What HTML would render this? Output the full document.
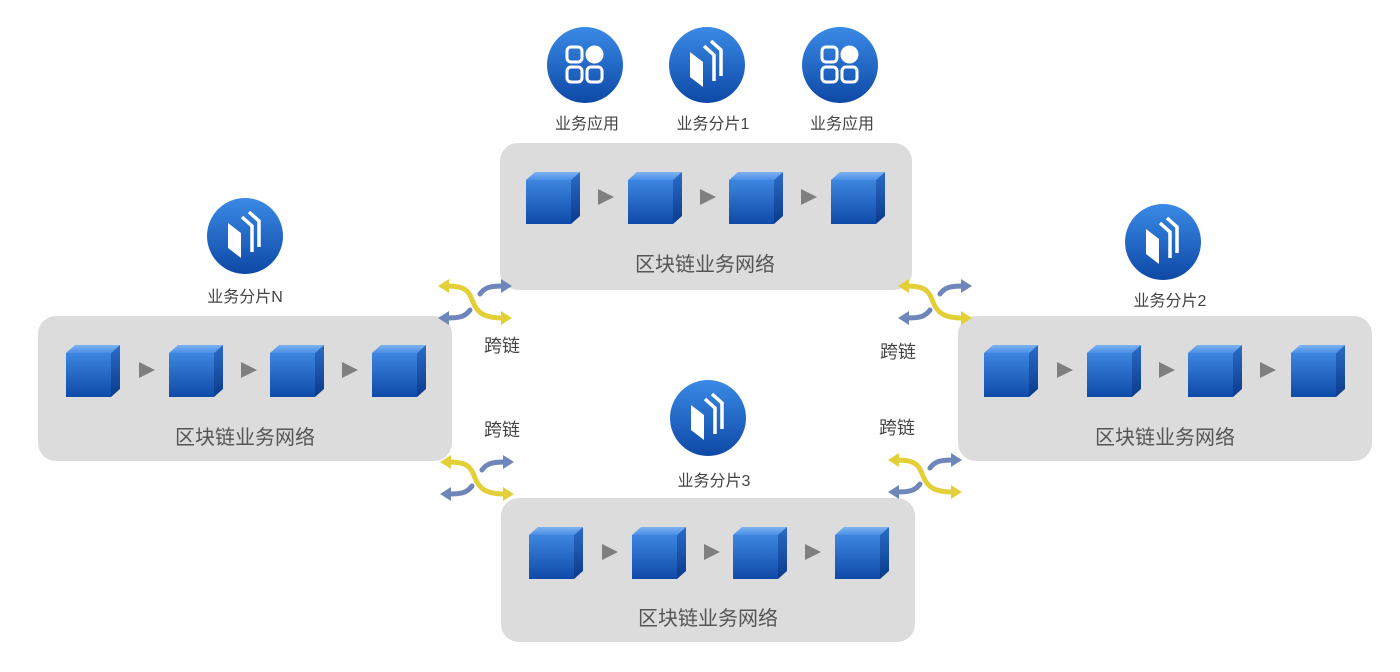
<!DOCTYPE html>
<html><head><meta charset="utf-8"><style>
html,body{margin:0;padding:0;background:#fff;}
svg{display:block;font-family:"Liberation Sans","Noto Sans CJK SC",sans-serif;}
</style></head><body>
<svg width="1400" height="672" viewBox="0 0 1400 672">
<defs>
<linearGradient id="cf" x1="0" y1="0" x2="0" y2="1"><stop offset="0" stop-color="#3d86e0"/><stop offset="1" stop-color="#0f4aa8"/></linearGradient>
<linearGradient id="ct" x1="0" y1="0" x2="0" y2="1"><stop offset="0" stop-color="#7db3f2"/><stop offset="1" stop-color="#4a8ee6"/></linearGradient>
<linearGradient id="cs" x1="0" y1="0" x2="0" y2="1"><stop offset="0" stop-color="#2a6cc8"/><stop offset="1" stop-color="#0b3a8a"/></linearGradient>
<linearGradient id="ci" x1="0" y1="0" x2="0" y2="1"><stop offset="0" stop-color="#3a8ae6"/><stop offset="1" stop-color="#0e48a6"/></linearGradient>
<g id="cube">
<polygon points="-27,-18 -18,-26 27,-26 18,-18" fill="url(#ct)"/>
<polygon points="18,-18 27,-26 27,18 18,26" fill="url(#cs)"/>
<rect x="-27" y="-18" width="45" height="44" fill="url(#cf)"/>
</g>
<polygon id="tri" points="-8,-8 8,0 -8,8" fill="#7f7f7f"/>
<g id="xc" fill="none" stroke-width="5" stroke-linecap="round">
<path d="M-28,-16 C-8,-16 -6,-10 -2,0 S 8,16 28,16" stroke="#e3cf38"/>
<polygon points="-37,-16 -26,-23 -26,-9" fill="#e3cf38" stroke="none"/>
<polygon points="37,16 26,9 26,23" fill="#e3cf38" stroke="none"/>
<path d="M5,-8 C10,-15 16,-16 28,-16" stroke="#6f86bb"/>
<polygon points="37,-16 26,-23 26,-9" fill="#6f86bb" stroke="none"/>
<path d="M-5,8 C-10,15 -16,16 -28,16" stroke="#6f86bb"/>
<polygon points="-37,16 -26,9 -26,23" fill="#6f86bb" stroke="none"/>
</g>
<g id="shard">
<circle r="38" fill="url(#ci)"/>
<polygon points="-17,-13 -4,-3 -4,22 -17,12" fill="#fff"/>
<path d="M-3,-19 L7,-10 L7,16" stroke="#fff" stroke-width="3.5" fill="none"/>
<path d="M4,-24 L14,-15 L14,11" stroke="#fff" stroke-width="3.5" fill="none"/>
</g>
<g id="app">
<circle r="38" fill="url(#ci)"/>
<g fill="none" stroke="#fff" stroke-width="3">
<rect x="-18" y="-18" width="15" height="15" rx="4"/>
<rect x="-18" y="2" width="15" height="15" rx="4"/>
<rect x="2" y="2" width="15" height="15" rx="4"/>
</g>
<circle cx="9.5" cy="-10.5" r="9" fill="#fff"/>
</g>
</defs>

<rect x="500" y="143" width="412" height="147" rx="18" fill="#dcdcdc"/>
<rect x="38" y="316" width="414" height="145" rx="18" fill="#dcdcdc"/>
<rect x="958" y="316" width="414" height="145" rx="18" fill="#dcdcdc"/>
<rect x="501" y="498" width="414" height="144" rx="18" fill="#dcdcdc"/>

<use href="#cube" x="553" y="198"/><use href="#tri" x="606" y="197"/>
<use href="#cube" x="655" y="198"/><use href="#tri" x="708" y="197"/>
<use href="#cube" x="756" y="198"/><use href="#tri" x="809" y="197"/>
<use href="#cube" x="858" y="198"/>
<use href="#cube" x="93" y="371"/><use href="#tri" x="147" y="370"/>
<use href="#cube" x="196" y="371"/><use href="#tri" x="249" y="370"/>
<use href="#cube" x="297" y="371"/><use href="#tri" x="350" y="370"/>
<use href="#cube" x="399" y="371"/>
<use href="#cube" x="1011" y="371"/><use href="#tri" x="1065" y="370"/>
<use href="#cube" x="1114" y="371"/><use href="#tri" x="1167" y="370"/>
<use href="#cube" x="1215" y="371"/><use href="#tri" x="1268" y="370"/>
<use href="#cube" x="1318" y="371"/>
<use href="#cube" x="556" y="553"/><use href="#tri" x="610" y="552"/>
<use href="#cube" x="659" y="553"/><use href="#tri" x="712" y="552"/>
<use href="#cube" x="760" y="553"/><use href="#tri" x="813" y="552"/>
<use href="#cube" x="862" y="553"/>

<g font-size="20" fill="#555" text-anchor="middle">
<text x="705" y="271">区块链业务网络</text>
<text x="245" y="444">区块链业务网络</text>
<text x="1165" y="444">区块链业务网络</text>
<text x="708" y="625">区块链业务网络</text>
</g>

<use href="#app" x="585" y="65"/>
<use href="#shard" x="707" y="65"/>
<use href="#app" x="840" y="65"/>
<use href="#shard" x="245" y="236"/>
<use href="#shard" x="1163" y="242"/>
<use href="#shard" x="708" y="418"/>

<g font-size="16" fill="#444" text-anchor="middle">
<text x="587" y="129">业务应用</text>
<text x="713" y="129">业务分片1</text>
<text x="842" y="129">业务应用</text>
<text x="245" y="302">业务分片N</text>
<text x="1170" y="306">业务分片2</text>
<text x="714" y="486">业务分片3</text>
</g>

<use href="#xc" x="475" y="302"/>
<use href="#xc" x="935" y="302"/>
<use href="#xc" x="477" y="478"/>
<use href="#xc" x="925" y="476"/>

<g font-size="18" fill="#444" text-anchor="middle">
<text x="502" y="352">跨链</text>
<text x="898" y="358">跨链</text>
<text x="502" y="436">跨链</text>
<text x="897" y="434">跨链</text>
</g>
</svg>
</body></html>
